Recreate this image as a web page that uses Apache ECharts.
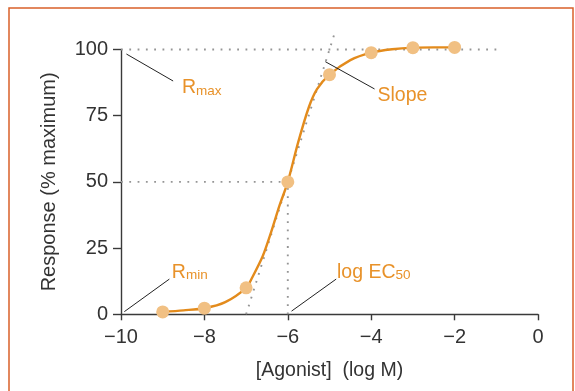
<!DOCTYPE html>
<html><head><meta charset="utf-8">
<script src="https://cdn.jsdelivr.net/npm/echarts@6/dist/echarts.min.js"></script>
<style>html,body{margin:0;padding:0;background:#fff}#c{width:575px;height:391px}</style>
</head><body><div id="c"></div>
<script>
// measured data points (log M, % maximum)
const doseLog = [-9, -8, -7, -6, -5, -4, -3, -2];
const responsePct = [0.9, 2.3, 10, 50, 90.5, 98.8, 100.7, 100.8];
// fitted curve
const curveX = [-9, -8.5, -8, -7.5, -7, -6.85, -6.6, -6.4, -6.2, -6, -5.75, -5.5, -5.3, -5, -4.5, -4, -3.5, -3, -2.5, -2];
const curveY = [0.9, 1.5, 2.3, 4.6, 10, 14, 22, 31, 41, 50, 65, 78, 85, 90.5, 96, 98.8, 100.1, 100.7, 100.8, 100.8];
// reference lines
const rmaxGuide = [[-10, 100], [-1, 100]];
const ec50HGuide = [[-10, 50], [-6, 50]];
const ec50VGuide = [[-6, 0], [-6, 50]];
const slopeGuide = [[-7, 0], [-4.86, 107]];
// annotations: leader line (from, to) and label anchor
const annLeaders = [
  [[-9.87, 98.3], [-8.75, 88.1]],
  [[-5.10, 95.4], [-3.92, 85.1]],
  [[-9.92, 1.0], [-8.84, 13.3]],
  [[-5.91, 1.2], [-4.84, 13.3]]
];
const annAnchors = [[-8.54, 83.2], [-3.85, 80.3], [-8.78, 13.6], [-4.82, 13.6]];
const annTexts = ['{r|R}{s|max}', '{r|Slope}', '{r|R}{s|min}', '{r|log EC}{s|50}'];
const xTicks = [-10, -8, -6, -4, -2, 0];
const yTicks = [0, 25, 50, 75, 100];

const FONT = 'Liberation Sans';
const ORANGE_LINE = '#e38b1c';
const ORANGE_DOT = '#f1c083';
const ORANGE_TEXT = '#e8922a';
const AXIS = '#3a3a3a';

const zip = (xs, ys) => xs.map((x, i) => [x, ys[i]]);
const dotted = { color: '#959595', width: 1.9, type: [1.8, 6.5], cap: 'butt' };

const chart = echarts.init(document.getElementById('c'), null, { renderer: 'canvas' });
const leaderSeries = annLeaders.map(l => ({
  type: 'line', data: l, showSymbol: false, symbol: 'none', clip: false, silent: true,
  lineStyle: { color: '#222', width: 1 }, z: 4
}));
chart.setOption({
  animation: false,
  backgroundColor: '#fff',
  grid: { left: 121, right: 37, top: 49.5, bottom: 76.7, containLabel: false, outerBoundsMode: 'none' },
  xAxis: {
    type: 'value', min: xTicks[0], max: xTicks[xTicks.length - 1], interval: 2,
    name: '[Agonist]  (log M)', nameLocation: 'middle', nameGap: 46,
    nameTextStyle: { fontFamily: FONT, fontSize: 19.5, color: '#333' },
    axisLine: { onZero: false, lineStyle: { color: AXIS, width: 1.4 } },
    axisTick: { show: true, length: 6, lineStyle: { color: AXIS, width: 1.4 } },
    axisLabel: { fontFamily: FONT, fontSize: 20, color: '#333', margin: 13,
      formatter: v => v < 0 ? '\u2212' + Math.abs(v) : String(v) },
    splitLine: { show: false }
  },
  yAxis: {
    type: 'value', min: yTicks[0], max: yTicks[yTicks.length - 1], interval: 25,
    name: 'Response (% maximum)', nameLocation: 'middle', nameGap: 62, nameRotate: 90,
    nameTextStyle: { fontFamily: FONT, fontSize: 20, color: '#333' },
    axisLine: { show: true, onZero: false, lineStyle: { color: AXIS, width: 1.4 } },
    axisTick: { show: true, length: 8, lineStyle: { color: AXIS, width: 1.4 } },
    axisLabel: { fontFamily: FONT, fontSize: 20, color: '#333', margin: 13 },
    splitLine: { show: false }
  },
  series: [
    { type: 'line', data: rmaxGuide, symbol: 'none', clip: false, lineStyle: dotted, z: 1, silent: true },
    { type: 'line', data: ec50HGuide, symbol: 'none', clip: false, lineStyle: dotted, z: 1, silent: true },
    { type: 'line', data: ec50VGuide, symbol: 'none', clip: false, lineStyle: dotted, z: 1, silent: true },
    { type: 'line', data: slopeGuide, symbol: 'none', clip: false, lineStyle: dotted, z: 1, silent: true },
    { type: 'line', data: zip(curveX, curveY), smooth: 0.3, symbol: 'none', clip: false,
      lineStyle: { color: ORANGE_LINE, width: 2.4 }, z: 3 },
    { type: 'scatter', data: zip(doseLog, responsePct), symbolSize: 13, clip: false,
      itemStyle: { color: ORANGE_DOT, opacity: 1 }, z: 5 },
    ...leaderSeries
  ]
});

const rich = {
  r: { fontFamily: FONT, fontSize: 19.5, fill: ORANGE_TEXT, verticalAlign: 'bottom', lineHeight: 22 },
  s: { fontFamily: FONT, fontSize: 13.5, fill: ORANGE_TEXT, verticalAlign: 'bottom', lineHeight: 19 }
};
const texts = annAnchors.map((a, i) => {
  const p = chart.convertToPixel({ gridIndex: 0 }, a);
  return { type: 'text', x: p[0], y: p[1] + 4, z: 10,
    style: { text: annTexts[i], rich: rich, fill: ORANGE_TEXT, fontFamily: FONT, fontSize: 19.5,
      align: 'left', verticalAlign: 'bottom' } };
});
chart.setOption({
  graphic: [
    { type: 'rect', shape: { x: 9, y: 8, width: 564, height: 420 },
      style: { fill: 'none', stroke: '#d9602a', lineWidth: 1.5 }, z: 20, silent: true },
    ...texts
  ]
});
</script></body></html>
